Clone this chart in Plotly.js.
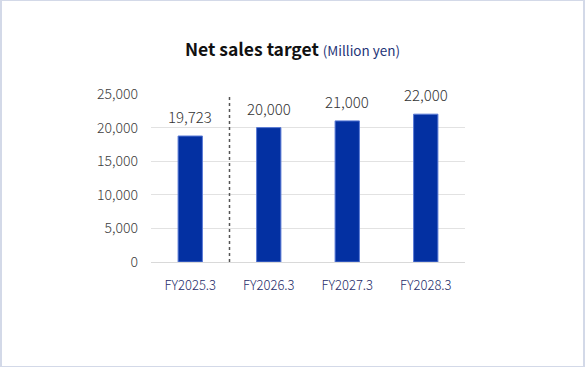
<!DOCTYPE html>
<html>
<head>
<meta charset="utf-8">
<script src="https://cdn.plot.ly/plotly-3.0.1.min.js"></script>
<style>
  html, body { margin:0; padding:0; background:#fff; }
  #wrap { position:relative; width:585px; height:367px; }
  #chart { position:absolute; left:0; top:0; width:585px; height:367px; }
  #frame { position:absolute; left:0; top:0; width:585px; height:367px; box-sizing:border-box;
           border:1px solid #d3d9e8; border-left:2px solid #d3d9e8; border-right:2px solid #d3d9e8; pointer-events:none; }
</style>
</head>
<body>
<div id="wrap"><div id="chart"></div><div id="frame"></div></div>
<script>
const categories = ['FY2025.3', 'FY2026.3', 'FY2027.3', 'FY2028.3'];
const barValues = [18750, 20000, 21000, 22000];   // bar heights as drawn
const valueLabels = ['19,723', '20,000', '21,000', '22,000'];
const yTicks = [0, 5000, 10000, 15000, 20000, 25000];
const actualCount = 1;  // results before the dashed divider

const font = '"Noto Sans CJK JP", "Noto Sans", sans-serif';

const trace = {
  type: 'bar',
  x: categories,
  y: barValues,
  marker: { color: '#0330a2', line: { color: '#5b7bd6', width: 1 } },
  hoverinfo: 'skip'
};

const annotations = categories.map((c, i) => ({
  x: c, y: barValues[i], xref: 'x', yref: 'y',
  text: valueLabels[i], showarrow: false,
  yanchor: 'bottom', yshift: 7,
  font: { family: font, size: 15, color: '#333333', weight: 300 }
}));

const layout = {
  width: 585, height: 367,
  margin: { l: 151, r: 120, t: 94, b: 105 },
  paper_bgcolor: '#ffffff', plot_bgcolor: '#ffffff',
  showlegend: false,
  bargap: 0.69,
  title: {
    text: '<b>Net sales target</b> <span style="font-size:13.5px;color:#1f3578;font-weight:normal">(Million yen)</span>',
    font: { family: font, size: 17.5, color: '#111111' },
    x: 0.5, xanchor: 'center', xref: 'container',
    y: 1 - 50/367, yanchor: 'middle', yref: 'container'
  },
  xaxis: {
    type: 'category',
    showgrid: false, zeroline: false,
    showline: true, linecolor: '#d9d9d9', linewidth: 1,
    ticks: '', ticklabelstandoff: 11,
    tickfont: { family: font, size: 13, color: '#1f2d6a', weight: 300 }
  },
  yaxis: {
    range: [0, 25000],
    tickvals: yTicks,
    tickformat: ',d',
    showgrid: true, gridcolor: '#e2e2e2', gridwidth: 1,
    zeroline: false, showline: false,
    ticks: '', ticklabelstandoff: 12,
    tickfont: { family: font, size: 14, color: '#404040', weight: 300 }
  },
  shapes: [{
    type: 'line', xref: 'x', yref: 'paper',
    x0: actualCount - 0.5, x1: actualCount - 0.5, y0: 0, y1: 1,
    line: { color: '#555555', width: 1.5, dash: '3px,3px' }
  }],
  annotations: annotations
};

Plotly.newPlot('chart', [trace], layout, { displayModeBar: false, staticPlot: true });
</script>
</body>
</html>
